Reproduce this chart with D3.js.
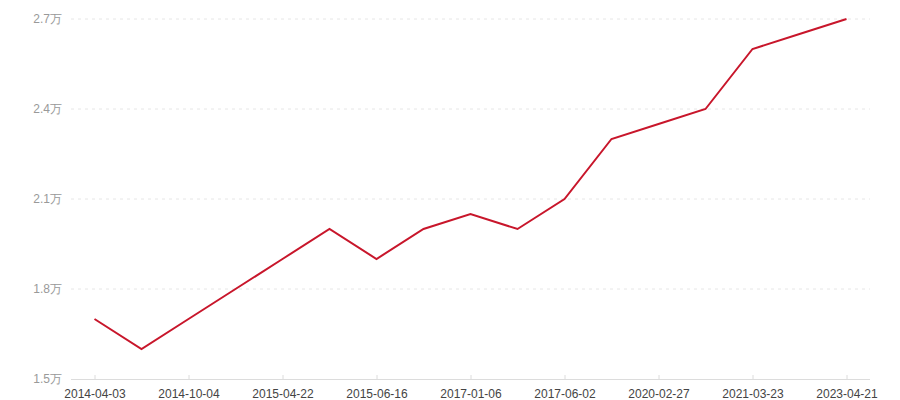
<!DOCTYPE html>
<html lang="zh">
<head>
  <meta charset="UTF-8">
  <title>折线图</title>
  <script src="https://d3js.org/d3.v7.min.js"></script>
  <style>
    body { margin: 0; padding: 0; background: #fff; }
    svg { display: block; font-family: "Noto Sans CJK SC", "Noto Sans", sans-serif; }
  </style>
</head>
<body>
  <svg width="900" height="400"></svg>
  <script>
    // categories (odd ones are not labelled on the axis)
    const dates = [
      "2014-04-03", "2014-07-03", "2014-10-04", "2015-01-05", "2015-04-22",
      "2015-05-20", "2015-06-16", "2016-08-05", "2017-01-06", "2017-03-10",
      "2017-06-02", "2019-09-12", "2020-02-27", "2020-09-15", "2021-03-23",
      "2022-04-08", "2023-04-21"
    ];
    const values = [
      17000, 16000, 17000, 18000, 19000,
      20000, 19000, 20000, 20500, 20000,
      21000, 23000, 23500, 24000, 26000,
      26500, 27000
    ];
    const yTicks = [15000, 18000, 21000, 24000, 27000];

    const svg = d3.select("svg");
    const margin = { left: 71, right: 30, top: 19, bottom: 21 };
    const width = 900, height = 400;

    const x = d3.scalePoint()
      .domain(dates)
      .range([margin.left, width - margin.right])
      .padding(0.5);

    const y = d3.scaleLinear()
      .domain([15000, 27000])
      .range([height - margin.bottom, margin.top]);

    // grid lines
    svg.append("g")
      .selectAll("line")
      .data(yTicks.slice(1))
      .enter().append("line")
      .attr("x1", margin.left)
      .attr("x2", width - margin.right)
      .attr("y1", d => y(d))
      .attr("y2", d => y(d))
      .attr("stroke", "#e6e6e6")
      .attr("stroke-dasharray", "3,4");

    // y axis labels
    const yAxis = d3.axisLeft(y)
      .tickValues(yTicks)
      .tickSize(0)
      .tickPadding(9)
      .tickFormat(d => (d / 10000).toFixed(1) + "万");

    svg.append("g")
      .attr("transform", `translate(${margin.left},0)`)
      .call(yAxis)
      .call(g => g.select(".domain").remove())
      .call(g => g.selectAll("text").attr("fill", "#999").style("font-size", "12px"));

    // x axis
    const xAxis = d3.axisBottom(x)
      .tickValues(dates.filter((d, i) => i % 2 === 0))
      .tickSizeInner(4)
      .tickSizeOuter(0)
      .tickPadding(6);

    svg.append("g")
      .attr("transform", `translate(0,${height - margin.bottom})`)
      .call(xAxis)
      .call(g => g.select(".domain").attr("stroke", "#dcdcdc").attr("d", `M${margin.left},0.5H${width - margin.right}`))
      .call(g => g.selectAll(".tick line").attr("stroke", "#dcdcdc").attr("y1", 0).attr("y2", -4))
      .call(g => g.selectAll("text").attr("fill", "#444").style("font-size", "12px"));

    // line
    const line = d3.line()
      .x((d, i) => x(dates[i]))
      .y(d => y(d));

    svg.append("path")
      .datum(values)
      .attr("fill", "none")
      .attr("stroke", "#c8162b")
      .attr("stroke-width", 2)
      .attr("d", line);
  </script>
</body>
</html>
